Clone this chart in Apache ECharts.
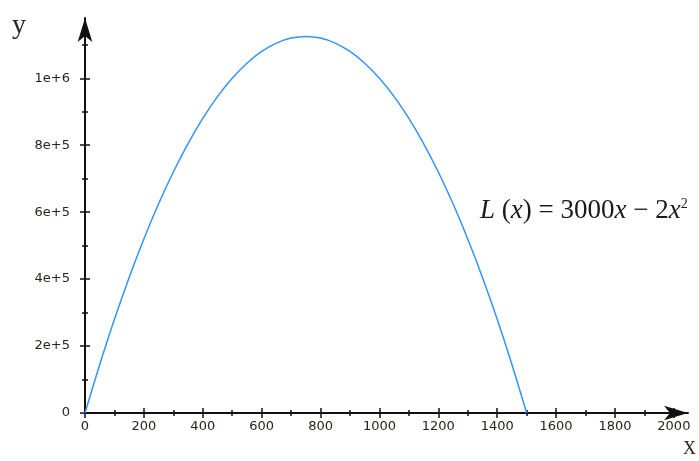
<!DOCTYPE html>
<html>
<head>
<meta charset="utf-8">
<script src="https://cdn.jsdelivr.net/npm/echarts@6/dist/echarts.min.js"></script>
<style>
  html, body { margin: 0; padding: 0; background: #fff; }
  #chart { width: 699px; height: 461px; }
</style>
</head>
<body>
<div id="chart"></div>
<script>
// profit curve L(x)
const xs = [0, 50, 100, 150, 200, 250, 300, 350, 400, 450, 500, 550, 600, 650, 700, 750,
  800, 850, 900, 950, 1000, 1050, 1100, 1150, 1200, 1250, 1300, 1350, 1400, 1450, 1500];
const ys = [0, 145000, 280000, 405000, 520000, 625000, 720000, 805000, 880000, 945000, 1000000,
  1045000, 1080000, 1105000, 1120000, 1125000, 1120000, 1105000, 1080000, 1045000, 1000000,
  945000, 880000, 805000, 720000, 625000, 520000, 405000, 280000, 145000, 0];

// tick labels
const xMajor = [0, 200, 400, 600, 800, 1000, 1200, 1400, 1600, 1800, 2000];
const xMinor = [100, 300, 500, 700, 900, 1100, 1300, 1500, 1700, 1900];
const yMajor = [0, 200000, 400000, 600000, 800000, 1000000];
const yMinor = [100000, 300000, 500000, 700000, 900000, 1100000];

const X_MAX = 2048;
const Y_MAX = 1180000;
const INK = '#111';
const LABEL_FONT = 'DejaVu Sans';

function sci(v) {
  if (v === 0) return '0';
  const e = Math.floor(Math.log10(v));
  return Math.round(v / Math.pow(10, e)) + 'e+' + e;
}

// one axis draws the line + outside ticks, the others add inside ticks / minor ticks
function makeAxes(isX) {
  const major = isX ? xMajor : yMajor;
  const minor = isX ? xMinor : yMinor;
  const base = {
    type: 'value',
    min: 0,
    max: isX ? X_MAX : Y_MAX,
    position: isX ? 'bottom' : 'left',
    splitLine: { show: false },
    axisLine: { show: false },
    axisLabel: { show: false }
  };
  const list = [];
  list.push(Object.assign({}, base, {
    axisLine: {
      show: true,
      symbol: ['none', 'arrow'],
      symbolSize: [11, 24],
      lineStyle: { color: INK, width: 2 }
    },
    axisTick: { show: true, customValues: major, length: 5, lineStyle: { color: INK, width: 1.5 } },
    axisLabel: {
      show: true,
      customValues: major,
      margin: isX ? 7 : 15,
      color: '#2a2418',
      fontFamily: LABEL_FONT,
      fontSize: 13,
      formatter: isX ? (v) => String(v) : sci
    }
  }));
  list.push(Object.assign({}, base, {
    axisTick: { show: true, inside: true, customValues: major, length: 5, lineStyle: { color: INK, width: 1.5 } }
  }));
  list.push(Object.assign({}, base, {
    axisTick: { show: true, customValues: minor, length: 3, lineStyle: { color: INK, width: 1.5 } }
  }));
  list.push(Object.assign({}, base, {
    axisTick: { show: true, inside: true, customValues: minor, length: 3, lineStyle: { color: INK, width: 1.5 } }
  }));
  return list;
}

const chart = echarts.init(document.getElementById('chart'));
chart.setOption({
  animation: false,
  backgroundColor: '#fff',
  grid: { left: 85, right: 11, top: 18, bottom: 48 },
  xAxis: makeAxes(true),
  yAxis: makeAxes(false),
  series: [{
    type: 'line',
    data: xs.map((x, i) => [x, ys[i]]),
    smooth: 0.3,
    showSymbol: false,
    lineStyle: { color: '#3393ff', width: 1.5 },
    z: 5
  }],
  graphic: [
    {
      type: 'text', left: 12, top: 12,
      style: { text: 'y', font: '28px "Liberation Serif"', fill: '#2a2418' }
    },
    {
      type: 'text', left: 683, top: 440,
      style: { text: 'X', font: '18px "Liberation Serif"', fill: '#2a2418' }
    },
    {
      type: 'text', x: 480, y: 211,
      style: {
        text: '{i|L}{n| (}{i|x}{n|) = 3000}{i|x}{n| \u2212 2}{i|x}{s|2}',
        verticalAlign: 'middle',
        fill: '#1a1a1a',
        rich: {
          i: { fontFamily: 'Liberation Serif', fontStyle: 'italic', fontSize: 27, lineHeight: 28, fill: '#1a1a1a' },
          n: { fontFamily: 'Liberation Serif', fontSize: 27, lineHeight: 28, fill: '#1a1a1a' },
          s: { fontFamily: 'Liberation Serif', fontSize: 14, lineHeight: 14, verticalAlign: 'top', fill: '#1a1a1a' }
        }
      }
    }
  ]
});
</script>
</body>
</html>
